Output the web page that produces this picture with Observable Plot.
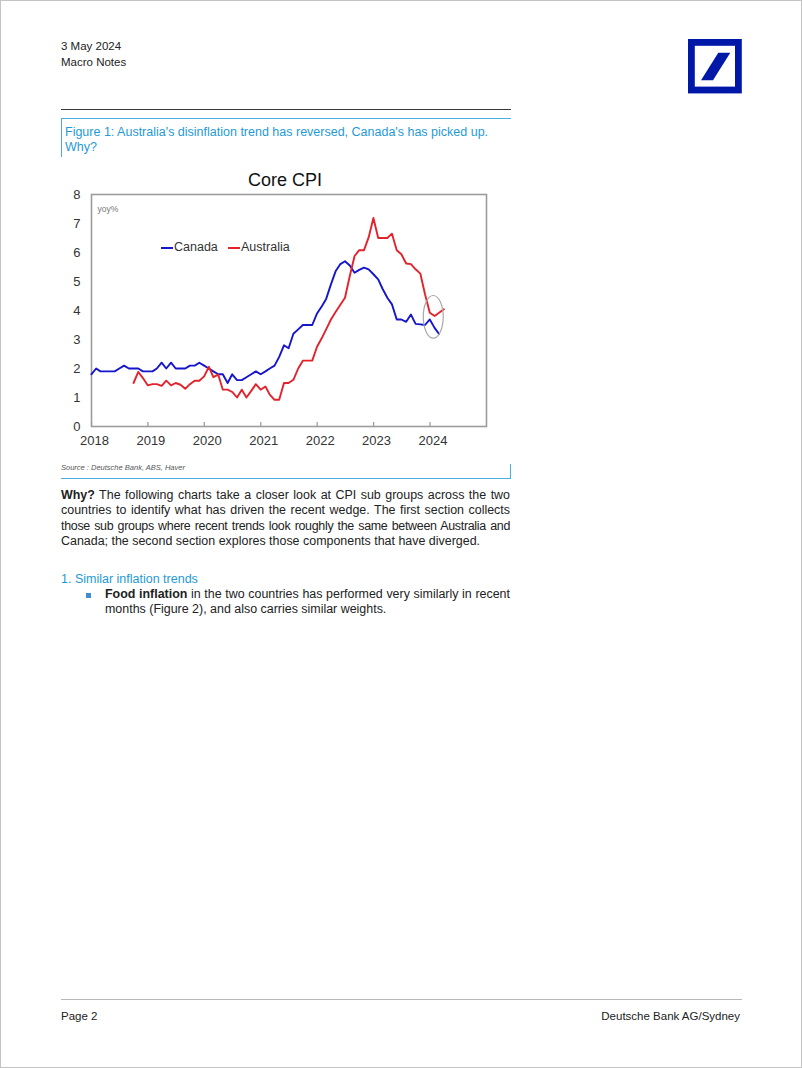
<!DOCTYPE html>
<html><head><meta charset="utf-8">
<script src="https://cdn.jsdelivr.net/npm/d3@7"></script>
<script src="https://cdn.jsdelivr.net/npm/@observablehq/plot@0.6"></script>
<style>
html,body{margin:0;padding:0;background:#fff;}
#page{position:relative;width:802px;height:1068px;box-sizing:border-box;border:1px solid #c4c4c4;font-family:"Liberation Sans",Arial,sans-serif;color:#222;overflow:hidden;background:#fff;}
.abs{position:absolute;white-space:nowrap;}
.hdr{font-size:11.5px;color:#222;}
.cap{color:#1f9ad6;font-size:12.5px;line-height:15px;}
.para{position:absolute;left:60px;width:449px;font-size:12.45px;line-height:15.4px;color:#222;}
.jl{text-align:justify;text-align-last:justify;}
.tight{letter-spacing:-0.3px;word-spacing:-1px;}
.leg{position:absolute;font-family:"Liberation Sans",Arial,sans-serif;font-size:12.5px;color:#333;white-space:nowrap;}
.sw{position:absolute;height:2px;width:12px;}
#chart{position:absolute;left:40px;top:186px;}
</style></head><body><div id="page">

<div class="abs hdr" style="left:60px;top:39px;">3 May 2024</div>
<div class="abs hdr" style="left:60px;top:55px;">Macro Notes</div>

<svg class="abs" style="left:687px;top:38px;" width="54" height="55" viewBox="0 0 54 55">
  <rect x="3.4" y="3.4" width="47" height="47.6" fill="none" stroke="#0018a8" stroke-width="6.8"/>
  <polygon points="30.3,13.7 42.3,13.7 25,41.3 13,41.3" fill="#0018a8"/>
</svg>

<div class="abs" style="left:60px;top:108px;width:450px;height:1px;background:#3a3a3a;"></div>
<div class="abs" style="left:60px;top:117px;width:450px;height:1px;background:#4aaee0;"></div>
<div class="abs" style="left:60px;top:117px;width:1px;height:39px;background:#4aaee0;"></div>
<div class="abs cap" style="left:64px;top:124px;">Figure 1: Australia's disinflation trend has reversed, Canada's has picked up.</div>
<div class="abs cap" style="left:64px;top:139px;">Why?</div>

<div class="abs" style="left:247px;top:169px;font-size:18px;color:#111;font-family:'Liberation Sans',Arial,sans-serif;">Core CPI</div>

<div id="chart"></div>

<div class="sw" style="left:160px;top:245.5px;background:#1515cc;"></div>
<div class="leg" style="left:173px;top:239px;">Canada</div>
<div class="sw" style="left:227px;top:245.5px;background:#e3232c;"></div>
<div class="leg" style="left:240px;top:239px;">Australia</div>

<div class="abs" style="left:60px;top:462px;font-size:7.5px;font-style:italic;color:#555;">Source : Deutsche Bank, ABS, Haver</div>
<div class="abs" style="left:60px;top:477px;width:450px;height:1px;background:#4aaee0;"></div>
<div class="abs" style="left:509px;top:463px;width:1px;height:15px;background:#4aaee0;"></div>

<div class="para" style="top:487px;">
  <div class="jl"><b>Why?</b> The following charts take a closer look at CPI sub groups across the two</div>
  <div class="jl">countries to identify what has driven the recent wedge. The first section collects</div>
  <div class="jl tight">those sub groups where recent trends look roughly the same between Australia and</div>
  <div>Canada; the second section explores those components that have diverged.</div>
</div>

<div class="abs" style="left:60px;top:571px;font-size:12.5px;color:#1f9ad6;">1. Similar inflation trends</div>
<div class="abs" style="left:85px;top:592px;width:5px;height:5px;background:#3b8fd2;"></div>
<div class="para" style="left:104px;width:405px;top:586px;">
  <div class="jl"><b>Food inflation</b> in the two countries has performed very similarly in recent</div>
  <div>months (Figure 2), and also carries similar weights.</div>
</div>

<div class="abs" style="left:60px;top:998px;width:681px;height:1px;background:#b8b8b8;"></div>
<div class="abs" style="left:60px;top:1009px;font-size:11.5px;color:#222;">Page 2</div>
<div class="abs" style="right:61px;top:1009px;font-size:11.5px;color:#222;">Deutsche Bank AG/Sydney</div>

</div>
<script>
// Canada core CPI, yoy %, monthly (month-end), starting Dec 2017
const canadaStart = "2017-12";
const canadaValues = [
  1.8, 2.0, 1.9, 1.9, 1.9, 1.9, 2.0, 2.1, 2.0, 2.0,
  2.0, 1.9, 1.9, 1.9, 2.0, 2.2, 2.0, 2.2, 2.0, 2.0,
  2.0, 2.1, 2.1, 2.2, 2.1, 2.0, 1.9, 1.8, 1.8, 1.5,
  1.8, 1.6, 1.6, 1.7, 1.8, 1.9, 1.8, 1.9, 2.0, 2.1,
  2.4, 2.8, 2.7, 3.2, 3.35, 3.5, 3.5, 3.5, 3.9, 4.15,
  4.4, 4.9, 5.35, 5.6, 5.7, 5.55, 5.3, 5.4, 5.48, 5.42,
  5.25, 5.07, 4.75, 4.44, 4.21, 3.69, 3.69, 3.61, 3.86, 3.54,
  3.52, 3.5, 3.69, 3.4, 3.19
];
// Australia core (trimmed mean) CPI, yoy %, monthly (month-end), starting Sep 2018
const australiaStart = "2018-09";
const australiaValues = [
  1.5, 1.88, 1.67, 1.42, 1.46, 1.46, 1.4, 1.58, 1.42, 1.5,
  1.44, 1.3, 1.46, 1.58, 1.58, 1.73, 2.06, 1.7, 1.79, 1.27,
  1.27, 1.19, 1.0, 1.27, 1.0, 1.23, 1.46, 1.27, 1.38, 1.1,
  0.92, 0.92, 1.5, 1.5, 1.61, 2.0, 2.27, 2.27, 2.27, 2.75,
  3.05, 3.35, 3.69, 3.95, 4.2, 4.44, 5.19, 5.88, 6.08, 6.08,
  6.52, 7.19, 6.5, 6.5, 6.5, 6.65, 6.08, 5.94, 5.62, 5.6,
  5.42, 5.27, 4.56, 3.92, 3.81, 3.92, 4.04
];
const seriesNames = ["Canada", "Australia"];
const seriesColors = ["#1515cc", "#e3232c"];
const xTickLabels = ["2018", "2019", "2020", "2021", "2022", "2023", "2024"];
const xDomain = ["2018-01-01", "2025-01-01"];
const yTicks = [0, 1, 2, 3, 4, 5, 6, 7, 8];
const unitLabel = "yoy%";
// highlighted recent period (ellipse annotation)
const ellipseDates = ["2023-11-22", "2024-03-30"];
const ellipseValues = [3.03, 4.5];

function monthEnd(start, i) {
  const [y, m] = start.split("-").map(Number);
  return d3.utcDay.offset(d3.utcMonth.offset(new Date(Date.UTC(y, m - 1, 1)), i + 1), -1);
}
const canada = canadaValues.map((v, i) => ({date: monthEnd(canadaStart, i), value: v, series: seriesNames[0]}));
const australia = australiaValues.map((v, i) => ({date: monthEnd(australiaStart, i), value: v, series: seriesNames[1]}));
const yearTicks = xTickLabels.map(s => new Date(Date.UTC(+s, 0, 1)));

const W = 460, H = 270, mT = 7, mB = 31;
const chart = Plot.plot({
  width: W, height: H,
  marginLeft: 50, marginRight: 15, marginTop: mT, marginBottom: mB,
  style: {fontFamily: "'Liberation Sans', Arial, sans-serif", fontSize: "13px", color: "#333", background: "transparent", overflow: "visible"},
  x: {type: "utc", domain: xDomain.map(s => new Date(s))},
  y: {domain: [0, 8]},
  marks: [
    Plot.tickX(yearTicks, {x: d => d, insetTop: H - mT - mB - 4, stroke: "#999", strokeWidth: 1.2}),
    Plot.frame({stroke: "#9c9c9c", strokeWidth: 1.6}),
    Plot.axisX({ticks: yearTicks, tickFormat: d3.utcFormat("%Y"), tickSize: 0, tickPadding: 9, dx: 3, label: null, fill: "#333"}),
    Plot.axisY({ticks: yTicks, tickSize: 0, tickPadding: 11, label: null, fill: "#333"}),
    Plot.line(canada, {x: "date", y: "value", stroke: seriesColors[0], strokeWidth: 1.9}),
    Plot.line(australia, {x: "date", y: "value", stroke: seriesColors[1], strokeWidth: 1.9}),
    Plot.text([unitLabel], {frameAnchor: "top-left", dx: 6, dy: 11, fontSize: 8.5, fill: "#777", text: d => d})
  ]
});
const sx = chart.scale("x"), sy = chart.scale("y");
const x0 = sx.apply(new Date(ellipseDates[0])), x1 = sx.apply(new Date(ellipseDates[1]));
const y0 = sy.apply(ellipseValues[0]), y1 = sy.apply(ellipseValues[1]);
d3.select(chart).append("ellipse")
  .attr("cx", (x0 + x1) / 2).attr("cy", (y0 + y1) / 2)
  .attr("rx", Math.abs(x1 - x0) / 2).attr("ry", Math.abs(y0 - y1) / 2)
  .attr("fill", "none").attr("stroke", "#a8a8a8").attr("stroke-width", 1.2);
document.getElementById("chart").appendChild(chart);
</script>
</body></html>
